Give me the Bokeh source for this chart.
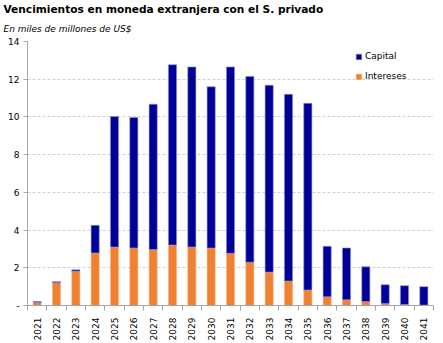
from bokeh.plotting import figure
from bokeh.models import Range1d, FixedTicker, Title, Legend, LegendItem, ColumnDataSource
from bokeh.embed import file_html
from bokeh.resources import INLINE
import math

years = ["2021","2022","2023","2024","2025","2026","2027","2028","2029","2030","2031",
         "2032","2033","2034","2035","2036","2037","2038","2039","2040","2041"]
intereses = [0.16, 1.21, 1.82, 2.79, 3.10, 3.05, 2.97, 3.21, 3.10, 3.05, 2.77,
             2.30, 1.77, 1.30, 0.82, 0.46, 0.30, 0.21, 0.10, 0.05, 0.02]
total = [0.21, 1.26, 1.89, 4.25, 10.02, 9.97, 10.67, 12.77, 12.65, 11.60, 12.65,
         12.15, 11.68, 11.20, 10.72, 3.14, 3.05, 2.05, 1.10, 1.05, 1.00]
capital = [round(t - i, 2) for t, i in zip(total, intereses)]
y_ticks = [0, 2, 4, 6, 8, 10, 12, 14]

idx = list(range(len(years)))
src = ColumnDataSource(dict(x=idx, Intereses=intereses, Capital=capital))

FONT = "DejaVu Sans"
p = figure(width=443, height=343, output_backend="svg", toolbar_location=None,
           x_range=Range1d(-0.5, len(years) - 0.5), y_range=Range1d(0, 14),
           min_border_left=27, min_border_right=10, min_border_top=5, min_border_bottom=3)
p.outline_line_color = None
p.background_fill_color = "white"

rs = p.vbar_stack(["Intereses", "Capital"], x="x", width=0.42, source=src,
                  color=["#F08133", "#000099"], line_color=["#F5B68A", "#8F8FCF"], line_width=0.6)

# titles
p.title.text = "Vencimientos  en moneda extranjera con el S. privado"
p.title.text_font = FONT
p.title.text_font_style = "bold"
p.title.text_font_size = "10.6px"
p.title.text_color = "black"
p.title.align = "left"
p.title.offset = -24
p.title.standoff = 0
p.add_layout(Title(text="En miles de millones de US$", text_color="black",
                   text_font=FONT, text_font_style="italic", text_font_size="9px",
                   align="left", offset=-24, standoff=15), "above")

# axes
p.yaxis.ticker = FixedTicker(ticks=y_ticks)
p.yaxis.major_label_overrides = {0: "-"}
p.yaxis.axis_line_color = "#A6A6A6"
p.yaxis.major_tick_line_color = "#A6A6A6"
p.yaxis.major_tick_in = 0
p.yaxis.major_tick_out = 4
p.yaxis.minor_tick_line_color = None
p.yaxis.major_label_text_font = FONT
p.yaxis.major_label_text_font_size = "9px"
p.yaxis.major_label_text_color = "black"
p.yaxis.major_label_standoff = 4

p.xaxis.ticker = FixedTicker(ticks=idx, minor_ticks=[i - 0.5 for i in range(len(years) + 1)])
p.xaxis.major_label_overrides = {i: y for i, y in enumerate(years)}
p.xaxis.major_label_orientation = math.pi / 2
p.xaxis.axis_line_color = "#A6A6A6"
p.xaxis.major_tick_line_color = None
p.xaxis.minor_tick_line_color = "#A6A6A6"
p.xaxis.minor_tick_in = 0
p.xaxis.minor_tick_out = 5
p.xaxis.major_label_text_font = FONT
p.xaxis.major_label_text_font_size = "9px"
p.xaxis.major_label_text_color = "black"
p.xaxis.major_label_standoff = 6

p.xgrid.grid_line_color = None
p.ygrid.grid_line_color = "#D0D0D0"
p.ygrid.grid_line_dash = "3 2"
p.ygrid.grid_line_width = 1

legend = Legend(items=[LegendItem(label="Capital", renderers=[rs[1]]),
                       LegendItem(label="Intereses", renderers=[rs[0]])],
                location=(328, 224), orientation="vertical",
                border_line_color=None, background_fill_alpha=0,
                label_text_font=FONT, label_text_font_size="9px", label_text_color="black",
                glyph_width=7, glyph_height=7, label_height=10, spacing=10,
                padding=0, margin=0, label_standoff=3)
p.add_layout(legend, "center")

open("out.html", "w").write(file_html(p, INLINE))
